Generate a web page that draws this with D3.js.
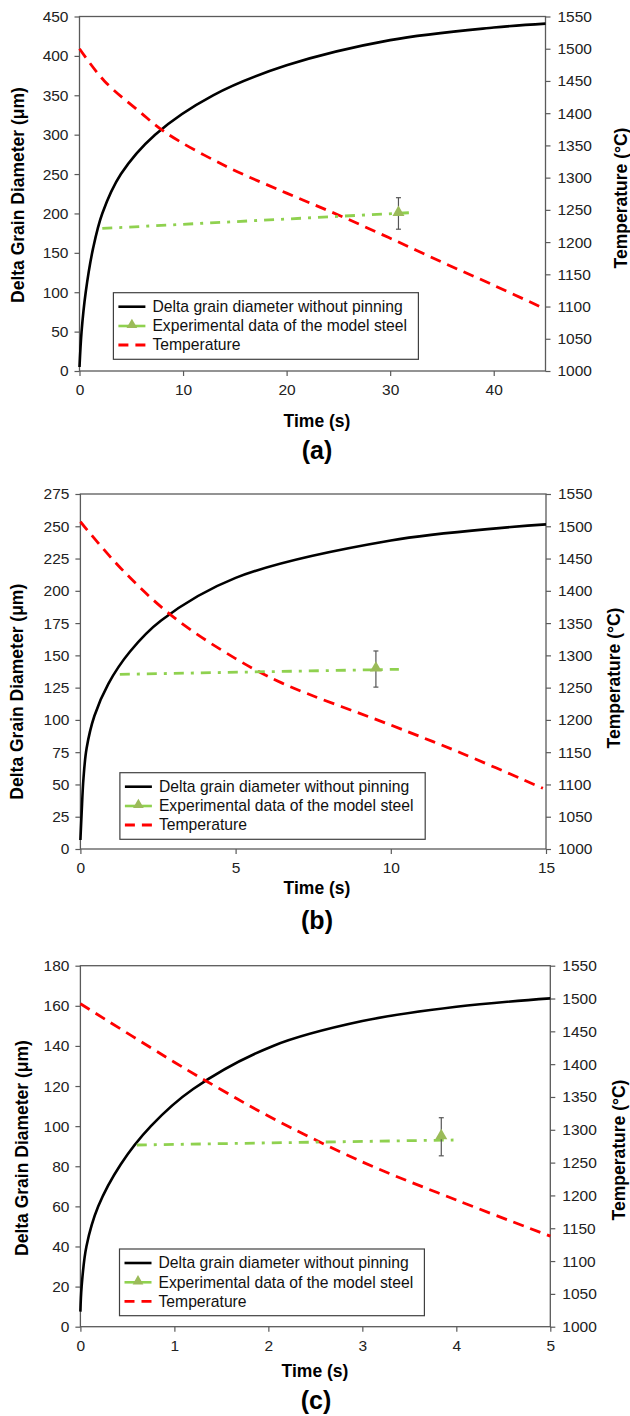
<!DOCTYPE html>
<html><head><meta charset="utf-8">
<script src="https://cdn.jsdelivr.net/npm/d3@7"></script>
<style>
body{margin:0;background:#fff}
svg{display:block}
text{font-family:"Liberation Sans",Arial,Helvetica,sans-serif}
</style>
</head><body>
<svg id="chart" width="630" height="1416"></svg>
<script>
// ---------- data ----------
const seriesNames = ["Delta grain diameter without pinning", "Experimental data of the model steel", "Temperature"];
const panelLabels = ["(a)", "(b)", "(c)"];
const xTitle = "Time (s)";
const yTitle = "Delta Grain Diameter (\u03bcm)";
const y2Title = "Temperature (\u00b0C)";

// panel (a)
const xTicksA = [0, 10, 20, 30, 40];
const yTicksA = [0, 50, 100, 150, 200, 250, 300, 350, 400, 450];
const timeA = [0, 0.2, 0.6, 1.3, 2.2, 4, 7.3, 12.9, 20, 30, 40, 45];
const diamA = [5, 50, 100, 155, 200, 250, 300, 350, 388, 420, 436, 441];
const tempTimeA = [0, 2.4, 5.9, 8.4, 14.1, 20, 25, 30, 35, 40, 45];
const tempA = [1500, 1450, 1401, 1369, 1318, 1276, 1242, 1206, 1169, 1133, 1096];
const expTimeA = [2.2, 32];
const expDiamA = [181, 201];
const expPointA = [30.8, 200];
const expErrA = 20;

// panel (b)
const xTicksB = [0, 5, 10, 15];
const yTicksB = [0, 25, 50, 75, 100, 125, 150, 175, 200, 225, 250, 275];
const timeB = [0, 0.04, 0.1, 0.2, 0.45, 0.9, 1.6, 2.6, 5, 10, 15];
const diamB = [7, 28, 55, 78, 103, 128, 153, 177, 210, 239, 251.5];
const tempTimeB = [0, 1.3, 2.98, 5, 6.5, 10, 12.3, 14.9];
const tempB = [1507, 1435, 1360, 1295, 1257, 1192, 1148, 1094];
const expTimeB = [1.27, 10.26];
const expDiamB = [135.3, 139.2];
const expPointB = [9.52, 139.4];
const expErrB = 14;

// panel (c)
const xTicksC = [0, 1, 2, 3, 4, 5];
const yTicksC = [0, 20, 40, 60, 80, 100, 120, 140, 160, 180];
const timeC = [0, 0.013, 0.064, 0.19, 0.43, 0.75, 1.2, 2.05, 3, 4, 5];
const diamC = [7.5, 20, 40, 60, 81, 100, 118.5, 140, 152.4, 159.5, 163.7];
const tempTimeC = [0, 1, 1.5, 2, 3, 4, 5];
const tempC = [1492, 1403, 1361, 1321, 1251, 1193, 1138];
const expTimeC = [0.6, 3.97];
const expDiamC = [90.6, 93.1];
const expPointC = [3.84, 94.7];
const expErrC = 9.5;

const y2Ticks = [1000, 1050, 1100, 1150, 1200, 1250, 1300, 1350, 1400, 1450, 1500, 1550];

// ---------- layout ----------
const panels = [
  {xMax:45, yMax:450, xTicks:xTicksA, yTicks:yTicksA, time:timeA, diam:diamA, tt:tempTimeA, temp:tempA,
   et:expTimeA, ed:expDiamA, ep:expPointA, err:expErrA,
   L:79.5, R:545.5, T:16.5, B:371, ytx:18, yty:195, rtx:621, rty:198, xtx:317, xty:421, lx:317, ly:450,
   leg:{x:113.4, y:292.7, w:305, h:66.6}},
  {xMax:15, yMax:275, xTicks:xTicksB, yTicks:yTicksB, time:timeB, diam:diamB, tt:tempTimeB, temp:tempB,
   et:expTimeB, ed:expDiamB, ep:expPointB, err:expErrB,
   L:80.4, R:546, T:494, B:849, ytx:16.5, yty:691.7, rtx:614, rty:678, xtx:317, xty:888, lx:317, ly:920,
   leg:{x:119.9, y:772.7, w:305.3, h:66.6}},
  {xMax:5, yMax:180, xTicks:xTicksC, yTicks:yTicksC, time:timeC, diam:diamC, tt:tempTimeC, temp:tempC,
   et:expTimeC, ed:expDiamC, ep:expPointC, err:expErrC,
   L:80.4, R:550.3, T:965.7, B:1326.7, ytx:22, yty:1148, rtx:619, rty:1150, xtx:315, xty:1370.7, lx:316, ly:1400,
   leg:{x:119.5, y:1249, w:304.9, h:66.7}}
];

const svg = d3.select("#chart");
const AXIS = "#5a5a5a";
const GREEN_LINE = "#8fd14f";
const GREEN_MARK = "#9bbb59";
const smooth = d3.curveCatmullRom.alpha(0.5);

panels.forEach((p, i) => {
  const g = svg.append("g");
  const x = d3.scaleLinear().domain([0, p.xMax]).range([p.L, p.R]);
  const y = d3.scaleLinear().domain([0, p.yMax]).range([p.B, p.T]);
  const y2 = d3.scaleLinear().domain([1000, 1550]).range([p.B, p.T]);

  const styleAxis = sel => {
    sel.select(".domain").remove();
    sel.selectAll(".tick line").attr("stroke", AXIS).attr("stroke-width", 1.2);
    sel.selectAll(".tick text").attr("fill", "#222").style("font-size", "15.5px");
  };
  g.append("g").attr("transform", `translate(${p.L},0)`)
    .call(d3.axisLeft(y).tickValues(p.yTicks).tickSize(5).tickPadding(6).tickFormat(d3.format("d")))
    .call(styleAxis);
  g.append("g").attr("transform", `translate(${p.R},0)`)
    .call(d3.axisRight(y2).tickValues(y2Ticks).tickSize(5).tickPadding(7).tickFormat(d3.format("d")))
    .call(styleAxis);
  g.append("g").attr("transform", `translate(0,${p.B})`)
    .call(d3.axisBottom(x).tickValues(p.xTicks).tickSize(5).tickPadding(8).tickFormat(d3.format("d")))
    .call(styleAxis);

  g.append("rect").attr("x", p.L).attr("y", p.T).attr("width", p.R - p.L).attr("height", p.B - p.T)
    .attr("fill", "none").attr("stroke", AXIS).attr("stroke-width", 1.3);

  // black curve
  const lineD = d3.line().x(d => x(d[0])).y(d => y(d[1])).curve(smooth);
  g.append("path").datum(p.time.map((t, k) => [t, p.diam[k]]))
    .attr("d", lineD).attr("fill", "none").attr("stroke", "#000").attr("stroke-width", 2.6);

  // temperature
  const lineT = d3.line().x(d => x(d[0])).y(d => y2(d[1])).curve(smooth);
  g.append("path").datum(p.tt.map((t, k) => [t, p.temp[k]]))
    .attr("d", lineT).attr("fill", "none").attr("stroke", "#ff0000").attr("stroke-width", 2.8)
    .attr("stroke-dasharray", "11,7");

  // experimental line
  const lineE = d3.line().x(d => x(d[0])).y(d => y(d[1]));
  g.append("path").datum(p.et.map((t, k) => [t, p.ed[k]]))
    .attr("d", lineE).attr("fill", "none").attr("stroke", GREEN_LINE).attr("stroke-width", 2.8)
    .attr("stroke-dasharray", "10,7,3,7");

  // error bar + marker
  const ex = x(p.ep[0]);
  const eTop = y(p.ep[1] + p.err), eBot = y(p.ep[1] - p.err);
  g.append("line").attr("x1", ex).attr("x2", ex).attr("y1", eTop).attr("y2", eBot).attr("stroke", "#555").attr("stroke-width", 1.2);
  [eTop, eBot].forEach(yy => g.append("line").attr("x1", ex - 2.5).attr("x2", ex + 2.5).attr("y1", yy).attr("y2", yy).attr("stroke", "#555").attr("stroke-width", 1.2));
  g.append("path").attr("d", d3.symbol(d3.symbolTriangle, 62)())
    .attr("transform", `translate(${ex},${y(p.ep[1]) - 1})`).attr("fill", GREEN_MARK);

  // legend
  const lg = g.append("g").attr("transform", `translate(${p.leg.x},${p.leg.y})`);
  lg.append("rect").attr("width", p.leg.w).attr("height", p.leg.h).attr("fill", "#fff").attr("stroke", "#404040").attr("stroke-width", 1.2);
  const rows = [14, 33.3, 52.3];
  lg.append("line").attr("x1", 5).attr("x2", 32).attr("y1", rows[0]).attr("y2", rows[0]).attr("stroke", "#000").attr("stroke-width", 2.6);
  lg.append("line").attr("x1", 5).attr("x2", 32).attr("y1", rows[1]).attr("y2", rows[1]).attr("stroke", GREEN_LINE).attr("stroke-width", 2.6);
  lg.append("path").attr("d", d3.symbol(d3.symbolTriangle, 50)()).attr("transform", `translate(18.5,${rows[1] - 1})`).attr("fill", GREEN_MARK);
  lg.append("line").attr("x1", 5).attr("x2", 32).attr("y1", rows[2]).attr("y2", rows[2]).attr("stroke", "#ff0000").attr("stroke-width", 2.8).attr("stroke-dasharray", "10,7");
  seriesNames.forEach((n, k) => {
    lg.append("text").attr("x", 39).attr("y", rows[k]).attr("dy", "0.35em").style("font-size", "15.7px").attr("fill", "#111").text(n);
  });

  // titles
  g.append("text").attr("transform", `translate(${p.ytx},${p.yty}) rotate(-90)`).attr("text-anchor", "middle")
    .attr("dy", "0.35em").style("font-size", "17.5px").style("font-weight", "bold").text(yTitle);
  g.append("text").attr("transform", `translate(${p.rtx},${p.rty}) rotate(-90)`).attr("text-anchor", "middle")
    .attr("dy", "0.35em").style("font-size", "17.5px").style("font-weight", "bold").text(y2Title);
  g.append("text").attr("x", p.xtx).attr("y", p.xty).attr("text-anchor", "middle").attr("dy", "0.35em")
    .style("font-size", "17.5px").style("font-weight", "bold").text(xTitle);
  g.append("text").attr("x", p.lx).attr("y", p.ly).attr("text-anchor", "middle").attr("dy", "0.35em")
    .style("font-size", "25px").style("font-weight", "bold").text(panelLabels[i]);
});
</script>
</body></html>
